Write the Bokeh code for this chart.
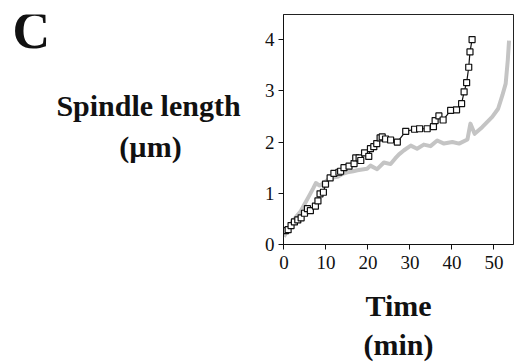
from bokeh.plotting import figure
from bokeh.layouts import row
from bokeh.models import Range1d, Label, FixedTicker
from bokeh.embed import file_html
from bokeh.resources import INLINE

# Black series (squares): time (min), spindle length (um)
black_t = [0.4, 1.0, 1.7, 2.5, 3.3, 4.1, 4.9, 5.6, 6.3, 7.5, 8.1, 8.6, 9.4, 9.9,
           11.0, 11.9, 13.1, 13.5, 14.3, 15.5, 16.7, 17.1, 17.9, 18.3, 19.2, 20.2,
           20.6, 21.4, 22.1, 22.9, 23.4, 24.2, 25.4, 27.0, 29.0, 31.1, 32.3, 34.1,
           35.6, 36.0, 36.9, 37.9, 39.7, 41.1, 42.3, 42.9, 43.5, 44.0, 44.3, 44.8]
black_len = [0.27, 0.29, 0.37, 0.44, 0.48, 0.52, 0.61, 0.70, 0.66, 0.75, 0.85, 0.99, 1.02, 1.18,
             1.30, 1.39, 1.41, 1.43, 1.50, 1.53, 1.58, 1.69, 1.69, 1.64, 1.79, 1.72,
             1.87, 1.91, 1.97, 2.08, 2.10, 2.06, 2.04, 2.00, 2.21, 2.25, 2.26, 2.26,
             2.30, 2.42, 2.51, 2.43, 2.62, 2.63, 2.75, 2.98, 3.16, 3.46, 3.76, 4.00]

# Gray series (line)
gray_t = [0, 1, 2, 3, 4, 5, 6, 7, 7.6, 8.5, 9.5, 11, 12.7, 14, 15.1, 16.5, 17.5, 19,
          19.8, 20.6, 22.2, 23.8, 25.4, 26.5, 27.4, 28.6, 30.2, 31.7, 33.3, 34.9,
          36.5, 38.1, 40.1, 41.7, 43.7, 44.4, 45.4, 47.2, 49.6, 51.0, 52.0, 52.8, 53.3, 53.6]
gray_len = [0.15, 0.30, 0.45, 0.55, 0.65, 0.80, 0.95, 1.10, 1.20, 1.15, 1.20, 1.30, 1.32,
            1.38, 1.41, 1.43, 1.45, 1.47, 1.48, 1.54, 1.47, 1.60, 1.57, 1.68, 1.76, 1.84,
            1.93, 1.87, 1.95, 1.92, 2.03, 1.97, 2.00, 1.97, 2.05, 2.36, 2.16, 2.29, 2.49,
            2.65, 2.91, 3.14, 3.60, 3.98]

x_ticks = [0, 10, 20, 30, 40, 50]
y_ticks = [0, 1, 2, 3, 4]

panel_letter = "C"
y_title = ["Spindle length", "(µm)"]
x_title = "Time\n(min)"

FONT = "Liberation Serif"
INK = "#111111"
H = 364
LW = 245
FRAME_TOP, FRAME_BOTTOM = 14, 244   # frame edges (px from top); the row aligns both frames

# ---- left text panel (holds panel letter and y-axis title) ----
t = figure(width=LW, height=H, output_backend="svg", toolbar_location=None,
           x_range=Range1d(0, LW), y_range=Range1d(FRAME_BOTTOM, FRAME_TOP),
           x_axis_type=None, y_axis_type=None, min_border=0)
t.grid.visible = False
t.outline_line_color = None

def lab(fig, text, x, y_top, size, align="center"):
    fig.add_layout(Label(x=x, y=y_top, text=text, text_font=FONT, text_font_style="bold",
                         text_font_size=size, text_align=align, text_baseline="alphabetic",
                         text_color=INK))

lab(t, panel_letter, 12, 30, "52px", "left")
lab(t, y_title[0], 148, 105, "30px")
lab(t, y_title[1], 150, 146, "30px")

# ---- main plot ----
p = figure(width=514 - LW, height=H, output_backend="svg", toolbar_location=None,
           x_range=Range1d(-0.1, 54.66), y_range=Range1d(0, 4.49),
           min_border_left=283 - LW, min_border_top=FRAME_TOP, min_border_right=1,
           min_border_bottom=H - FRAME_BOTTOM)

p.grid.visible = False
p.outline_line_color = "#222222"
p.outline_line_width = 1

for ax in (p.xaxis[0], p.yaxis[0]):
    ax.major_label_text_font = FONT
    ax.major_label_text_font_size = "19px"
    ax.major_label_text_color = INK
    ax.axis_line_color = INK
    ax.major_tick_line_color = INK
    ax.minor_tick_line_color = None
    ax.major_tick_out = 5
    ax.major_tick_in = 0

p.xaxis[0].ticker = FixedTicker(ticks=x_ticks)
p.yaxis[0].ticker = FixedTicker(ticks=y_ticks)
p.xaxis[0].major_label_standoff = 6
p.yaxis[0].major_label_standoff = 4

p.xaxis[0].axis_label = x_title
p.xaxis[0].axis_label_text_font = FONT
p.xaxis[0].axis_label_text_font_style = "bold"
p.xaxis[0].axis_label_text_font_size = "30px"
p.xaxis[0].axis_label_text_color = INK
p.xaxis[0].axis_label_standoff = 17

p.line(gray_t, gray_len, line_color="#c4c4c4", line_width=4, line_join="round")
p.line(black_t, black_len, line_color=INK, line_width=1.2)
p.scatter(black_t, black_len, marker="square", size=6, fill_color="white",
          line_color=INK, line_width=1.2)

layout = row(t, p)
open("out.html", "w").write(file_html(layout, INLINE))
